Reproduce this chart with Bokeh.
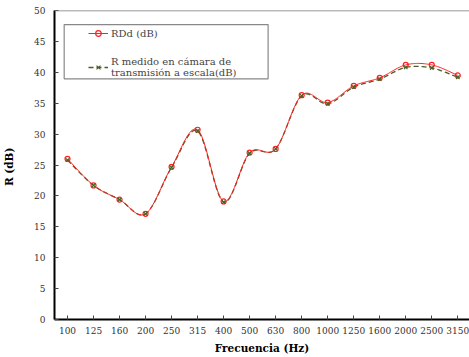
import numpy as np
from bokeh.plotting import figure
from bokeh.models import Legend, LegendItem, Span, FixedTicker
from bokeh.embed import file_html
from bokeh.resources import INLINE

freqs = ["100", "125", "160", "200", "250", "315", "400", "500", "630",
         "800", "1000", "1250", "1600", "2000", "2500", "3150"]
rdd = [26.0, 21.7, 19.4, 17.1, 24.7, 30.7, 19.1, 27.0, 27.6,
       36.3, 35.1, 37.8, 39.1, 41.2, 41.2, 39.5]
r_medido = [25.8, 21.7, 19.4, 17.1, 24.6, 30.5, 19.0, 26.9, 27.6,
            36.2, 34.9, 37.6, 38.9, 40.8, 40.7, 39.2]
y_ticks = [0, 5, 10, 15, 20, 25, 30, 35, 40, 45, 50]

xs = np.arange(1, len(freqs) + 1, dtype=float)


def smooth(x, y, n=24):
    x = np.asarray(x, float)
    y = np.asarray(y, float)
    P = np.column_stack([x, y])
    out = [P[0]]
    for i in range(len(P) - 1):
        p0 = P[i - 1] if i > 0 else P[i]
        p1 = P[i]
        p2 = P[i + 1]
        p3 = P[i + 2] if i + 2 < len(P) else P[i + 1]
        c1 = p1 + (p2 - p0) / 6.0
        c2 = p2 - (p3 - p1) / 6.0
        t = np.linspace(0, 1, n + 1)[1:, None]
        seg = ((1 - t) ** 3) * p1 + 3 * ((1 - t) ** 2) * t * c1 + 3 * (1 - t) * t ** 2 * c2 + t ** 3 * p2
        out.extend(seg)
    out = np.array(out)
    return out[:, 0], out[:, 1]


p = figure(width=469, height=357, output_backend="svg", toolbar_location=None,
           x_range=(0.5, 16.45), y_range=(0, 50),
           min_border_left=53, min_border_right=0, min_border_top=10, min_border_bottom=38,
           background_fill_color="white", border_fill_color="white")
p.outline_line_color = None
p.grid.visible = False

SERIF = "DejaVu Serif"
RED = "#FF2020"
GREEN = "#4A5E23"

sx, sy = smooth(xs, r_medido)
g_line = p.line(sx, sy, line_color=GREEN, line_width=1.3, line_dash="5 3")
rx, ry = smooth(xs, rdd)
r_line = p.line(rx, ry, line_color=RED, line_width=1.0)
r_pts = p.scatter(xs, rdd, marker="circle", size=5, line_color=RED, fill_color=None, line_width=1.2)
g_pts = p.scatter(xs, r_medido, marker="x", size=5, line_color=GREEN, line_width=1.1)

p.add_layout(Span(location=50, dimension="width", line_color="#777777", line_width=1.5))

# legend box
p.quad(left=0.872, right=8.71, bottom=38.95, top=47.73, fill_color="white",
       line_color="#888888", line_width=1.2, level="underlay")

legend = Legend(items=[
    LegendItem(label="RDd (dB)", renderers=[r_line, r_pts]),
    LegendItem(label="R medido en cámara de\ntransmisión a escala(dB)", renderers=[g_line, g_pts]),
], location=(34, 241), padding=0, margin=0, spacing=16,
    border_line_color=None, background_fill_alpha=0,
    label_text_font=SERIF, label_text_font_size="10px", label_standoff=3,
    glyph_width=20, glyph_height=14, label_height=14)
p.add_layout(legend)

xa = p.xaxis[0]
xa.ticker = FixedTicker(ticks=list(xs))
xa.major_label_overrides = {float(i): f for i, f in zip(xs, freqs)}
xa.major_label_overrides.update({int(i): f for i, f in zip(xs, freqs)})
xa.axis_label = "Frecuencia (Hz)"
ya = p.yaxis[0]
ya.ticker = FixedTicker(ticks=y_ticks)
ya.axis_label = "R  (dB)"

for ax in (xa, ya):
    ax.axis_line_color = "black"
    ax.axis_line_width = 2
    ax.major_tick_in = 4
    ax.major_tick_out = 0
    ax.major_tick_line_color = "#444444"
    ax.minor_tick_line_color = None
    ax.major_label_text_font = SERIF
    ax.major_label_text_font_size = "9px"
    ax.major_label_text_color = "#333333"
    ax.axis_label_text_font = SERIF
    ax.axis_label_text_font_size = "10.5px"
    ax.axis_label_text_font_style = "bold"
    ax.axis_label_text_color = "black"

xa.major_label_standoff = 7
xa.axis_label_standoff = 5
ya.major_label_standoff = 9
ya.axis_label_standoff = 16

open("out.html", "w").write(file_html(p, INLINE))
